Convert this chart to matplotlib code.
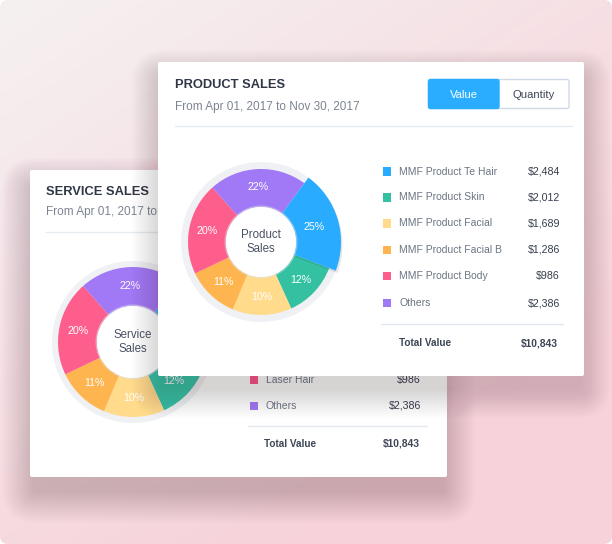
import numpy as np
import matplotlib
matplotlib.use("Agg")
import matplotlib.pyplot as plt
from matplotlib.patches import FancyBboxPatch, Rectangle, Circle, Wedge

plt.rcParams['font.family'] = ['Liberation Sans', 'DejaVu Sans']

# ---------------- data ----------------
front_title = "PRODUCT SALES"
back_title = "SERVICE SALES"
date_range = "From Apr 01, 2017 to Nov 30, 2017"
front_center = "Product\nSales"
back_center = "Service\nSales"

categories = ["MMF Product Te Hair", "MMF Product Skin", "MMF Product Facial",
              "MMF Product Facial B", "MMF Product Body", "Others"]
values = ["$2,484", "$2,012", "$1,689", "$1,286", "$986", "$2,386"]
total_value = "$10,843"
pct_labels = ["25%", "12%", "10%", "11%", "20%", "22%"]
# wedge shares as drawn in the picture (degrees converted to %)
wedge_shares = [20.7, 12.4, 13.1, 11.6, 20.5, 21.7]
colors = ["#29acff", "#33c1a2", "#ffdb8b", "#ffb54f", "#fd5e8c", "#a178f5"]

back_categories = ["Laser Hair", "Others"]
back_values = ["$986", "$2,386"]
back_colors = ["#fd5e8c", "#a178f5"]

W, H = 612, 544
fig = plt.figure(figsize=(W / 100, H / 100), dpi=100)
fig.patch.set_facecolor("white")


def px_axes(x0, y0, x1, y1, z):
    ax = fig.add_axes([x0 / W, 1 - y1 / H, (x1 - x0) / W, (y1 - y0) / H])
    ax.set_xlim(x0, x1)
    ax.set_ylim(y1, y0)
    ax.axis("off")
    ax.set_zorder(z)
    ax.patch.set_alpha(0)
    return ax


def shadow(ax, x0, y0, x1, y1, dy, spread, alpha, z, color="#5a3440", n=22):
    for i in range(n):
        e = spread * (i + 1) / n
        ax.add_patch(FancyBboxPatch((x0 - e + 4, y0 - e + dy + 6), (x1 - x0) + 2 * e - 8,
                                    (y1 - y0) + 2 * e - 6,
                                    boxstyle=f"round,pad=0,rounding_size={e + 2}",
                                    fc=color, ec="none", alpha=alpha, zorder=z))


# ---------------- background ----------------
bg = px_axes(0, 0, W, H, 0)
yy, xx = np.mgrid[0:H, 0:W]
t = np.clip((xx / W) * 0.55 + (yy / H) * 0.75, 0, 1)
c0 = np.array([0xf5, 0xf1, 0xf1]) / 255
c1 = np.array([0xf7, 0xd2, 0xda]) / 255
img = c0[None, None, :] * (1 - t[..., None]) + c1[None, None, :] * t[..., None]
im = bg.imshow(img, extent=[0, W, H, 0], zorder=0, interpolation="bilinear")
clip = FancyBboxPatch((0, 0), W, H, boxstyle="round,pad=0,rounding_size=8",
                      transform=bg.transData, fc="none", ec="none")
bg.add_patch(clip)
im.set_clip_path(clip)
bg.set_xlim(0, W)
bg.set_ylim(H, 0)

# back card shadow + card
shadow(bg, 30, 170, 447, 477, 14, 32, 0.010, 1)
bg.add_patch(FancyBboxPatch((30, 170), 417, 307, boxstyle="round,pad=0,rounding_size=2",
                            fc="white", ec="none", zorder=2))
bg.text(46, 192, back_title, fontsize=9.3, fontweight="bold", color="#2f3746",
        va="center", ha="left", zorder=3)
bg.text(46, 212, date_range, fontsize=8.5, color="#7b8491", va="center", ha="left", zorder=3)
bg.plot([46, 440], [232, 232], color="#e6ebf0", lw=1, zorder=3)

back_rows = [380, 406]
for yv, lab, val, col in zip(back_rows, back_categories, back_values, back_colors):
    bg.add_patch(Rectangle((249.5, yv - 4), 8, 8, fc=col, ec="none", zorder=3))
    bg.text(265.5, yv, lab, fontsize=7.5, color="#6b7583", va="center", ha="left", zorder=3)
    bg.text(421, yv, val, fontsize=7.7, color="#363e4c", va="center", ha="right", zorder=3)
bg.plot([248, 427], [425.5, 425.5], color="#e3e8ee", lw=1, zorder=3)
bg.text(264, 444, "Total Value", fontsize=7.2, fontweight="bold", color="#3d4656",
        va="center", ha="left", zorder=3)
bg.text(420, 444, total_value, fontsize=7.4, fontweight="bold", color="#3d4656",
        va="center", ha="right", zorder=3)


def donut(cx, cy, R, r_in, ring, z, center_text, enlarge_first=True):
    Hh = 95
    ax = fig.add_axes([(cx - Hh) / W, 1 - (cy + Hh) / H, 2 * Hh / W, 2 * Hh / H])
    ax.set_zorder(z)
    ax.patch.set_alpha(0)
    ax.add_patch(Circle((0, 0), ring, fc="#eff1f4", ec="none", zorder=0))
    wedges, _ = ax.pie(wedge_shares, colors=colors, startangle=53.6, counterclock=False,
                       radius=R, wedgeprops=dict(width=R - r_in, edgecolor="none"))
    for w in wedges:
        w.set_zorder(1)
    if enlarge_first:
        b = wedges[0]
        sh = Wedge((1.5, -2.5), R + 7, b.theta1, b.theta2, width=R + 7 - r_in,
                   fc="#1a3040", ec="none", alpha=0.12, zorder=1.5)
        ax.add_patch(sh)
        b.set_radius(R + 7)
        b.set_width(R + 7 - r_in)
        b.set_zorder(2)
    ax.add_patch(Circle((0, 0), r_in + 1.5, fc="#dfe3e8", ec="none", alpha=0.5, zorder=2.5))
    ax.add_patch(Circle((0, 0), r_in, fc="white", ec="none", zorder=3))
    for w, lab in zip(wedges, pct_labels):
        mid = np.deg2rad((w.theta1 + w.theta2) / 2)
        rr = (R + r_in) / 2 + 1
        ax.text(rr * np.cos(mid), rr * np.sin(mid), lab, fontsize=7.7, color="white",
                ha="center", va="center", zorder=4)
    ax.text(0, 0, center_text, fontsize=8.3, color="#4a5263", ha="center", va="center",
            linespacing=1.15, zorder=4)
    ax.set_xlim(-Hh, Hh)
    ax.set_ylim(-Hh, Hh)
    ax.set_aspect("equal")
    ax.axis("off")
    return ax


donut(133, 342, 75, 36, 81, 1, back_center, enlarge_first=False)

# ---------------- front card ----------------
fr = px_axes(0, 0, W, H, 2)
shadow(fr, 158, 62, 584, 376, 12, 30, 0.009, 1)
fr.add_patch(FancyBboxPatch((158, 62), 426, 314, boxstyle="round,pad=0,rounding_size=2",
                            fc="white", ec="none", zorder=2))
fr.text(175, 84.5, front_title, fontsize=9.3, fontweight="bold", color="#2f3746",
        va="center", ha="left", zorder=3)
fr.text(175, 107, date_range, fontsize=8.5, color="#7b8491", va="center", ha="left", zorder=3)
fr.plot([175, 572], [126.3, 126.3], color="#e6ebf0", lw=1, zorder=3)

# toggle buttons
fr.add_patch(FancyBboxPatch((428.5, 79.5), 140.5, 29, boxstyle="round,pad=0,rounding_size=2",
                            fc="white", ec="#cfd9e6", lw=1, zorder=3))
fr.add_patch(FancyBboxPatch((428.5, 79.5), 70.5, 29, boxstyle="round,pad=0,rounding_size=2",
                            fc="#2aadff", ec="#2aadff", lw=1, zorder=4))
fr.text(463.5, 94.5, "Value", fontsize=8.1, color="white", ha="center", va="center", zorder=5)
fr.text(534, 94.5, "Quantity", fontsize=8.1, color="#3d4656", ha="center", va="center", zorder=5)

rows = [171.7, 197.5, 223.5, 250, 276.2, 303.3]
for yv, lab, val, col in zip(rows, categories, values, colors):
    fr.add_patch(Rectangle((382.5, yv - 4.5), 8.5, 8.5, fc=col, ec="none", zorder=3))
    fr.text(399, yv, lab, fontsize=7.5, color="#6b7583", va="center", ha="left", zorder=3)
    fr.text(560, yv, val, fontsize=7.7, color="#363e4c", va="center", ha="right", zorder=3)
fr.plot([381, 563], [323.5, 323.5], color="#e3e8ee", lw=1, zorder=3)
fr.text(399, 343.3, "Total Value", fontsize=7.2, fontweight="bold", color="#3d4656",
        va="center", ha="left", zorder=3)
fr.text(558, 343.3, total_value, fontsize=7.4, fontweight="bold", color="#3d4656",
        va="center", ha="right", zorder=3)

donut(261, 242, 73, 35, 80, 3, front_center, enlarge_first=True)

fig.savefig("out.png", dpi=100, facecolor="white")
